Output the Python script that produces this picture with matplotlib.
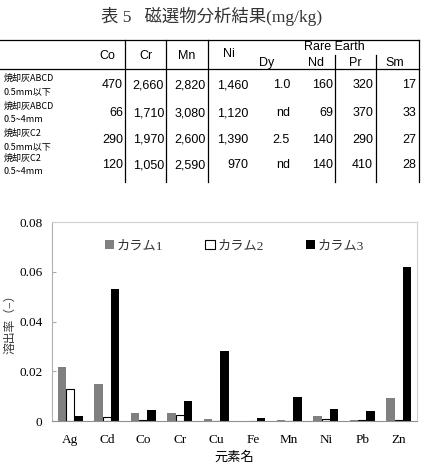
import matplotlib
matplotlib.use("Agg")
from matplotlib import pyplot as plt
from matplotlib.lines import Line2D
import numpy as np

# table data
row_top = ['焼却灰ABCD', '焼却灰ABCD', '焼却灰C2', '焼却灰C2']
row_bot = ['0.5mm以下', '0.5~4mm', '0.5mm以下', '0.5~4mm']
col_names = ['Co', 'Cr', 'Mn', 'Ni', 'Dy', 'Nd', 'Pr', 'Sm']
co = ['470', '66', '290', '120']
cr = ['2,660', '1,710', '1,970', '1,050']
mn = ['2,820', '3,080', '2,600', '2,590']
ni = ['1,460', '1,120', '1,390', '970']
dy = ['1.0', 'nd', '2.5', 'nd']
nd = ['160', '69', '140', '140']
pr = ['320', '370', '290', '410']
sm = ['17', '33', '27', '28']

# chart data
elements = ['Ag', 'Cd', 'Co', 'Cr', 'Cu', 'Fe', 'Mn', 'Ni', 'Pb', 'Zn']
col1 = [0.0218, 0.0150, 0.0032, 0.0032, 0.0007, 0.0, 0.0004, 0.0019, 0.0004, 0.0091]
col2 = [0.0128, 0.0016, 0.0005, 0.0025, 0.0001, 0.0, 0.0002, 0.0008, 0.0004, 0.0004]
col3 = [0.0021, 0.0531, 0.0045, 0.0080, 0.0281, 0.0011, 0.0095, 0.0049, 0.0039, 0.0621]

W, H = 424, 465
fig = plt.figure(figsize=(W/100, H/100), dpi=100)

jp = ['Noto Sans CJK JP', 'DejaVu Sans']
jp_serif = ['Liberation Serif', 'Noto Sans CJK JP']

def fx(x): return x / W
def fy(y): return 1 - y / H

def txt(x, y, s, **kw):
	fig.text(fx(x), fy(y), s, va='center', **kw)

def line(x0, y0, x1, y1, lw=0.9):
	fig.add_artist(Line2D([fx(x0), fx(x1)], [fy(y0), fy(y1)], color='black', lw=lw))

# title
txt(212, 16, '表 5   磁選物分析結果(mg/kg)', ha='center', fontsize=12.5, family=jp_serif, color='#333333')

# table frame
line(0, 40, 419, 40)
line(0, 69, 419, 69)
for xv in [125, 166, 208, 419]:
	line(xv, 40, xv, 182)
for xv in [335, 376]:
	line(xv, 55, xv, 182)

# headers
tf = 'Liberation Sans'
for name, x in zip(['Co', 'Cr', 'Mn'], [107, 146, 187]):
	txt(x, 56, name, ha='center', fontsize=9, family=tf)
txt(229, 54, 'Ni', ha='center', fontsize=9, family=tf)
txt(334, 47, 'Rare Earth', ha='center', fontsize=9, family=tf)
for name, x in zip(['Dy', 'Nd', 'Pr', 'Sm'], [267, 316, 355, 395]):
	txt(x, 63, name, ha='center', fontsize=9, family=tf)

# rows
cols = [co, cr, mn, ni, dy, nd, pr, sm]
right_x = [123, 164, 206, 248, 290, 333, 373, 416]
row_y = [85, 113, 140, 165]
for i, y in enumerate(row_y):
	txt(4, y - 7, row_top[i], ha='left', fontsize=6.5, family=jp)
	txt(4, y + 7, row_bot[i], ha='left', fontsize=6.5, family=jp)
	for c, xr in zip(cols, right_x):
		txt(xr, y, c[i], ha='right', fontsize=9, family=tf)

# bar chart
ax = fig.add_axes([fx(52), fy(421), (417-52)/W, (421-222)/H])
x = np.arange(len(elements))
bw = 0.23
ax.bar(x - bw, col1, bw, color='#808080', label='カラム1')
ax.bar(x, col2, bw, color='white', edgecolor='black', linewidth=0.8, label='カラム2')
ax.bar(x + bw, col3, bw, color='black', label='カラム3')
ax.set_xlim(-0.5, len(elements) - 0.5)
ax.set_ylim(0, 0.08)
ax.set_yticks([0, 0.02, 0.04, 0.06, 0.08])
ax.set_yticklabels(['0', '0.02', '0.04', '0.06', '0.08'], family='Liberation Serif', fontsize=9.5)
ax.set_xticks(x)
ax.set_xticklabels(elements, family='Liberation Serif', fontsize=9.5)
ax.tick_params(axis='x', length=0, pad=9)
ax.tick_params(axis='y', direction='in', length=3, color='#aaaaaa', pad=7)
for s in ['top', 'right']:
	ax.spines[s].set_color('#d0d0d0')
ax.spines['left'].set_color('#b0b0b0')
ax.spines['bottom'].set_color('#909090')
fig.text(fx(10), fy(321), '溶出率（−）', rotation=90, ha='center', va='center',
	family=jp_serif, fontsize=8.5, color='#333333')
ax.set_xlabel('元素名', family=jp_serif, fontsize=9.5, labelpad=4)
leg = ax.legend(loc='upper center', ncol=3, frameon=False,
	prop={'family': jp_serif, 'size': 9.5}, handlelength=0.7, handleheight=0.7,
	handletextpad=0.2, columnspacing=3.2, bbox_to_anchor=(0.5, 0.97))
for t in leg.get_texts():
	t.set_color('#333333')

fig.savefig('out.png', dpi=100)
